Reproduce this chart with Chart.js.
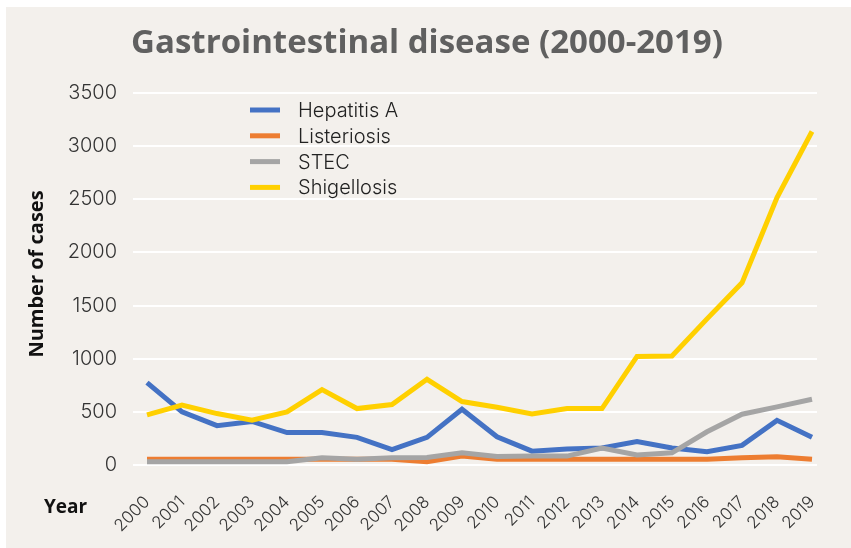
<!DOCTYPE html>
<html>
<head>
<meta charset="utf-8">
<script src="https://cdn.jsdelivr.net/npm/chart.js@4.4.1/dist/chart.umd.min.js"></script>
<style>
  html, body { margin: 0; padding: 0; background: #fff; }
  #wrap { width: 851px; height: 548px; position: relative; }
</style>
</head>
<body>
<div id="wrap"><canvas id="chart"></canvas></div>
<script>
// data
const years = ['2000', '2001', '2002', '2003', '2004', '2005', '2006', '2007', '2008', '2009',
               '2010', '2011', '2012', '2013', '2014', '2015', '2016', '2017', '2018', '2019'];
const hepatitisA = [775, 500, 370, 410, 305, 305, 260, 145, 260, 525, 265, 130, 150, 160, 220, 160, 125, 185, 420, 260];
const listeriosis = [53, 53, 53, 53, 53, 53, 53, 55, 30, 84, 55, 53, 53, 53, 53, 53, 55, 68, 78, 53];
const stec = [30, 30, 30, 30, 30, 68, 55, 68, 70, 115, 80, 84, 84, 160, 94, 115, 313, 478, 547, 619];
const shigellosis = [472, 563, 484, 422, 500, 710, 531, 569, 806, 597, 544, 481, 531, 531, 1022, 1025, 1375, 1714, 2516, 3138];
const yTicks = [0, 500, 1000, 1500, 2000, 2500, 3000, 3500];

const seriesNames = ['Hepatitis A', 'Listeriosis', 'STEC', 'Shigellosis'];
const seriesColors = ['#4472c4', '#ed7d31', '#a5a5a5', '#ffd000'];

const BG = '#f3f0ec';
const BOLD_FONT = '"Open Sans", Lato, sans-serif';
const LIGHT_FONT = 'Inter, Lato, sans-serif';

// background panel, white grid lines and all the loose text
const decorPlugin = {
    id: 'decor',
    beforeDraw(chart) {
        const ctx = chart.ctx;
        ctx.save();
        ctx.fillStyle = '#ffffff';
        ctx.fillRect(0, 0, chart.width, chart.height);
        ctx.fillStyle = BG;
        ctx.fillRect(6, 7, chart.width - 6, chart.height - 7);
        ctx.restore();
    },
    beforeDatasetsDraw(chart) {
        const ctx = chart.ctx;
        const y = chart.scales.y;
        const area = chart.chartArea;
        ctx.save();
        ctx.strokeStyle = '#ffffff';
        ctx.lineWidth = 2;
        yTicks.forEach(v => {
            const py = Math.round(y.getPixelForValue(v));
            ctx.beginPath();
            ctx.moveTo(area.left - 14, py);
            ctx.lineTo(area.right + 5, py);
            ctx.stroke();
        });
        ctx.restore();
    },
    afterDraw(chart) {
        const ctx = chart.ctx;
        ctx.save();
        // title
        ctx.fillStyle = '#606060';
        ctx.font = 'bold 33px ' + BOLD_FONT;
        ctx.textAlign = 'center';
        ctx.textBaseline = 'alphabetic';
        ctx.fillText('Gastrointestinal disease (2000-2019)', 427, 53);

        // axis titles
        ctx.fillStyle = '#111111';
        ctx.font = 'bold 19px ' + BOLD_FONT;
        ctx.textAlign = 'left';
        ctx.fillText('Year', 44, 513);
        ctx.font = 'bold 20px ' + BOLD_FONT;
        ctx.translate(37, 274);
        ctx.rotate(-Math.PI / 2);
        ctx.textAlign = 'center';
        ctx.textBaseline = 'middle';
        ctx.fillText('Number of cases', 0, 0);
        ctx.restore();

        // legend
        ctx.save();
        ctx.font = '300 20px ' + LIGHT_FONT;
        ctx.textBaseline = 'middle';
        ctx.textAlign = 'left';
        chart.data.datasets.forEach((ds, i) => {
            const ly = 110 + i * 25.8;
            ctx.strokeStyle = ds.borderColor;
            ctx.lineWidth = 5;
            ctx.beginPath();
            ctx.moveTo(250, ly);
            ctx.lineTo(280, ly);
            ctx.stroke();
            ctx.fillStyle = '#222222';
            ctx.fillText(ds.label, 298, ly + 1);
        });
        ctx.restore();
    }
};

const seriesData = [hepatitisA, listeriosis, stec, shigellosis];

const ctx = document.getElementById('chart').getContext('2d');
const chart = new Chart(ctx, {
    type: 'line',
    data: {
        labels: years,
        datasets: seriesNames.map((name, i) => ({
            label: name,
            data: seriesData[i],
            borderColor: seriesColors[i],
            backgroundColor: seriesColors[i],
            borderWidth: 5,
            pointRadius: 0,
            tension: 0,
            fill: false,
            order: 4 - i, // later series on top, as in the source
        }))
    },
    options: {
        responsive: true,
        maintainAspectRatio: false,
        animation: false,
        layout: {
            padding: { top: 93, right: 39, bottom: 0, left: 0 }
        },
        plugins: {
            legend: { display: false },
            title: { display: false },
            tooltip: { enabled: false }
        },
        scales: {
            x: {
                type: 'category',
                offset: false,
                grid: { display: false, drawTicks: false },
                border: { display: false },
                ticks: {
                    color: '#333333',
                    font: { family: LIGHT_FONT, size: 17, weight: '300' },
                    minRotation: 45,
                    maxRotation: 45,
                    autoSkip: false,
                    padding: 27
                },
                afterFit(scale) {
                    scale.height = 83;
                    scale.paddingLeft = 0;
                    scale.paddingRight = 0;
                }
            },
            y: {
                min: 0,
                max: 3500,
                afterBuildTicks(scale) { scale.ticks = yTicks.map(v => ({ value: v })); },
                grid: { display: false, drawTicks: false },
                border: { display: false },
                ticks: {
                    color: '#333333',
                    font: { family: LIGHT_FONT, size: 20, weight: '300' },
                    padding: 30,
                    callback: v => String(v)
                },
                afterFit(scale) { scale.width = 147; }
            }
        }
    },
    plugins: [decorPlugin]
});
</script>
</body>
</html>
